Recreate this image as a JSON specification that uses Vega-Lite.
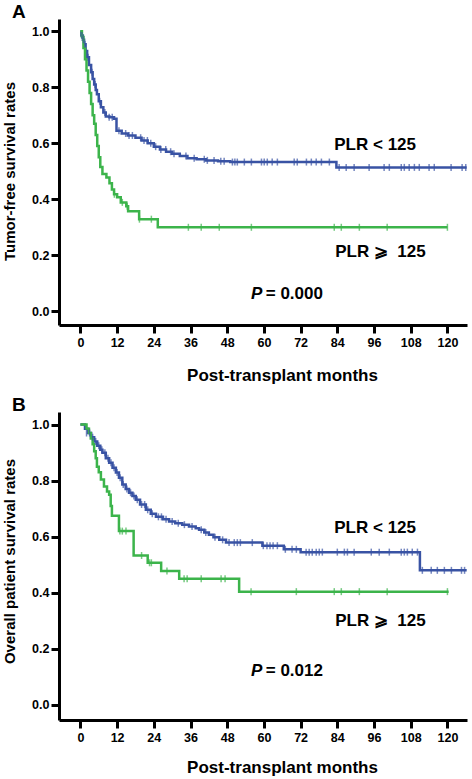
{
  "$schema": "https://vega.github.io/schema/vega-lite/v6.json",
  "background": "white",
  "padding": {"left": 2, "top": 3, "right": 0, "bottom": 0},
  "spacing": 87,
  "bounds": "flush",
  "config": {
    "view": {"stroke": null},
    "font": "Liberation Sans",
    "axis": {
      "grid": false,
      "domainColor": "black", "domainWidth": 3,
      "tickColor": "black", "tickWidth": 3, "tickSize": 8,
      "labelFont": "Liberation Sans", "labelFontWeight": "bold", "labelFontSize": 12.5, "labelColor": "black",
      "titleFont": "Liberation Sans", "titleFontWeight": "bold", "titleFontSize": 16.5, "titleColor": "black"
    },
    "axisX": {"labelPadding": 3},
    "axisY": {"labelPadding": 2}
  },
  "datasets": {
    "curves": [
      {"p":"A","g":"low","m":0,"s":1.0},{"p":"A","g":"low","m":0.3,"s":0.985},{"p":"A","g":"low","m":0.8,"s":0.97},{"p":"A","g":"low","m":1.2,"s":0.954},{"p":"A","g":"low","m":1.7,"s":0.93},{"p":"A","g":"low","m":2.2,"s":0.907},{"p":"A","g":"low","m":2.8,"s":0.88},{"p":"A","g":"low","m":3.5,"s":0.854},{"p":"A","g":"low","m":4.0,"s":0.83},{"p":"A","g":"low","m":4.5,"s":0.81},{"p":"A","g":"low","m":5.0,"s":0.79},{"p":"A","g":"low","m":5.4,"s":0.775},{"p":"A","g":"low","m":6.0,"s":0.75},{"p":"A","g":"low","m":6.7,"s":0.729},{"p":"A","g":"low","m":7.5,"s":0.71},{"p":"A","g":"low","m":8.3,"s":0.696},{"p":"A","g":"low","m":9.5,"s":0.693},{"p":"A","g":"low","m":11.0,"s":0.688},{"p":"A","g":"low","m":11.8,"s":0.645},{"p":"A","g":"low","m":13.5,"s":0.635},{"p":"A","g":"low","m":15.5,"s":0.628},{"p":"A","g":"low","m":18,"s":0.62},{"p":"A","g":"low","m":20,"s":0.61},{"p":"A","g":"low","m":22,"s":0.6},{"p":"A","g":"low","m":24,"s":0.588},{"p":"A","g":"low","m":26,"s":0.578},{"p":"A","g":"low","m":28,"s":0.57},{"p":"A","g":"low","m":30,"s":0.563},{"p":"A","g":"low","m":32.5,"s":0.555},{"p":"A","g":"low","m":35,"s":0.547},{"p":"A","g":"low","m":38,"s":0.543},{"p":"A","g":"low","m":41,"s":0.539},{"p":"A","g":"low","m":45,"s":0.536},{"p":"A","g":"low","m":49,"s":0.533},{"p":"A","g":"low","m":83.7,"s":0.514},{"p":"A","g":"low","m":126.3,"s":0.514},
      {"p":"A","g":"high","m":0,"s":1.0},{"p":"A","g":"high","m":0.5,"s":0.98},{"p":"A","g":"high","m":1.0,"s":0.94},{"p":"A","g":"high","m":1.5,"s":0.9},{"p":"A","g":"high","m":2.0,"s":0.86},{"p":"A","g":"high","m":2.5,"s":0.82},{"p":"A","g":"high","m":3.0,"s":0.78},{"p":"A","g":"high","m":3.5,"s":0.74},{"p":"A","g":"high","m":4.0,"s":0.7},{"p":"A","g":"high","m":4.5,"s":0.67},{"p":"A","g":"high","m":5.0,"s":0.63},{"p":"A","g":"high","m":5.5,"s":0.59},{"p":"A","g":"high","m":6.0,"s":0.55},{"p":"A","g":"high","m":6.5,"s":0.515},{"p":"A","g":"high","m":7.2,"s":0.49},{"p":"A","g":"high","m":8.5,"s":0.478},{"p":"A","g":"high","m":9.5,"s":0.457},{"p":"A","g":"high","m":10.3,"s":0.435},{"p":"A","g":"high","m":11.0,"s":0.418},{"p":"A","g":"high","m":12,"s":0.407},{"p":"A","g":"high","m":13.2,"s":0.389},{"p":"A","g":"high","m":15.0,"s":0.375},{"p":"A","g":"high","m":15.6,"s":0.357},{"p":"A","g":"high","m":19.2,"s":0.329},{"p":"A","g":"high","m":25.3,"s":0.3},{"p":"A","g":"high","m":120,"s":0.3},
      {"p":"B","g":"low","m":0,"s":1.0},{"p":"B","g":"low","m":1.5,"s":0.985},{"p":"B","g":"low","m":2.5,"s":0.97},{"p":"B","g":"low","m":3.5,"s":0.955},{"p":"B","g":"low","m":4.5,"s":0.94},{"p":"B","g":"low","m":5.5,"s":0.925},{"p":"B","g":"low","m":6.5,"s":0.91},{"p":"B","g":"low","m":7.2,"s":0.9},{"p":"B","g":"low","m":8.3,"s":0.88},{"p":"B","g":"low","m":9.4,"s":0.864},{"p":"B","g":"low","m":10.5,"s":0.846},{"p":"B","g":"low","m":11.6,"s":0.829},{"p":"B","g":"low","m":12.6,"s":0.81},{"p":"B","g":"low","m":13.7,"s":0.786},{"p":"B","g":"low","m":14.8,"s":0.77},{"p":"B","g":"low","m":15.9,"s":0.757},{"p":"B","g":"low","m":17,"s":0.745},{"p":"B","g":"low","m":18.1,"s":0.732},{"p":"B","g":"low","m":19.5,"s":0.715},{"p":"B","g":"low","m":21.4,"s":0.696},{"p":"B","g":"low","m":23,"s":0.682},{"p":"B","g":"low","m":24.7,"s":0.671},{"p":"B","g":"low","m":27,"s":0.662},{"p":"B","g":"low","m":29,"s":0.654},{"p":"B","g":"low","m":31,"s":0.648},{"p":"B","g":"low","m":33.3,"s":0.643},{"p":"B","g":"low","m":35.5,"s":0.636},{"p":"B","g":"low","m":37.7,"s":0.63},{"p":"B","g":"low","m":38.8,"s":0.625},{"p":"B","g":"low","m":40.5,"s":0.615},{"p":"B","g":"low","m":42,"s":0.607},{"p":"B","g":"low","m":43.5,"s":0.598},{"p":"B","g":"low","m":45.4,"s":0.589},{"p":"B","g":"low","m":47.6,"s":0.579},{"p":"B","g":"low","m":59.5,"s":0.568},{"p":"B","g":"low","m":66.5,"s":0.555},{"p":"B","g":"low","m":72,"s":0.545},{"p":"B","g":"low","m":111,"s":0.48},{"p":"B","g":"low","m":126.3,"s":0.48},
      {"p":"B","g":"high","m":0,"s":1.0},{"p":"B","g":"high","m":2.0,"s":0.985},{"p":"B","g":"high","m":2.8,"s":0.97},{"p":"B","g":"high","m":3.4,"s":0.95},{"p":"B","g":"high","m":4.0,"s":0.93},{"p":"B","g":"high","m":4.5,"s":0.905},{"p":"B","g":"high","m":5.0,"s":0.88},{"p":"B","g":"high","m":5.4,"s":0.85},{"p":"B","g":"high","m":6.0,"s":0.83},{"p":"B","g":"high","m":6.7,"s":0.804},{"p":"B","g":"high","m":7.7,"s":0.779},{"p":"B","g":"high","m":8.7,"s":0.761},{"p":"B","g":"high","m":9.4,"s":0.75},{"p":"B","g":"high","m":9.9,"s":0.71},{"p":"B","g":"high","m":10.3,"s":0.675},{"p":"B","g":"high","m":12.6,"s":0.62},{"p":"B","g":"high","m":17.4,"s":0.533},{"p":"B","g":"high","m":22,"s":0.507},{"p":"B","g":"high","m":26.4,"s":0.478},{"p":"B","g":"high","m":32.3,"s":0.45},{"p":"B","g":"high","m":51.9,"s":0.404},{"p":"B","g":"high","m":120.4,"s":0.404}
    ],
    "censors": [
      {"p":"A","g":"low","m":0.5,"s":0.985},{"p":"A","g":"low","m":1.0,"s":0.97},{"p":"A","g":"low","m":1.5,"s":0.954},{"p":"A","g":"low","m":2.5,"s":0.907},{"p":"A","g":"low","m":3.8,"s":0.854},{"p":"A","g":"low","m":4.8,"s":0.81},{"p":"A","g":"low","m":6.3,"s":0.75},{"p":"A","g":"low","m":8.0,"s":0.71},{"p":"A","g":"low","m":9.4,"s":0.693},{"p":"A","g":"low","m":10.4,"s":0.693},{"p":"A","g":"low","m":12.6,"s":0.645},{"p":"A","g":"low","m":14.8,"s":0.635},{"p":"A","g":"low","m":15.9,"s":0.628},{"p":"A","g":"low","m":17,"s":0.628},{"p":"A","g":"low","m":19.7,"s":0.62},{"p":"A","g":"low","m":20.8,"s":0.61},{"p":"A","g":"low","m":21.9,"s":0.61},{"p":"A","g":"low","m":23,"s":0.6},{"p":"A","g":"low","m":24.6,"s":0.588},{"p":"A","g":"low","m":26.3,"s":0.578},{"p":"A","g":"low","m":27.9,"s":0.578},{"p":"A","g":"low","m":29.5,"s":0.57},{"p":"A","g":"low","m":30.6,"s":0.563},{"p":"A","g":"low","m":34.5,"s":0.555},{"p":"A","g":"low","m":37.2,"s":0.547},{"p":"A","g":"low","m":40.5,"s":0.543},{"p":"A","g":"low","m":41.5,"s":0.539},{"p":"A","g":"low","m":43.7,"s":0.539},{"p":"A","g":"low","m":45.9,"s":0.536},{"p":"A","g":"low","m":47,"s":0.536},{"p":"A","g":"low","m":49.7,"s":0.533},{"p":"A","g":"low","m":50.5,"s":0.533},{"p":"A","g":"low","m":51.3,"s":0.533},{"p":"A","g":"low","m":53.6,"s":0.533},{"p":"A","g":"low","m":55.9,"s":0.533},{"p":"A","g":"low","m":59.2,"s":0.533},{"p":"A","g":"low","m":60.1,"s":0.533},{"p":"A","g":"low","m":61.1,"s":0.533},{"p":"A","g":"low","m":62.7,"s":0.533},{"p":"A","g":"low","m":64.4,"s":0.533},{"p":"A","g":"low","m":69.9,"s":0.533},{"p":"A","g":"low","m":70.9,"s":0.533},{"p":"A","g":"low","m":73.9,"s":0.533},{"p":"A","g":"low","m":75.5,"s":0.533},{"p":"A","g":"low","m":77.1,"s":0.533},{"p":"A","g":"low","m":78.8,"s":0.533},{"p":"A","g":"low","m":81.4,"s":0.533},{"p":"A","g":"low","m":84.6,"s":0.514},{"p":"A","g":"low","m":86.9,"s":0.514},{"p":"A","g":"low","m":89.5,"s":0.514},{"p":"A","g":"low","m":94.4,"s":0.514},{"p":"A","g":"low","m":99.3,"s":0.514},{"p":"A","g":"low","m":101,"s":0.514},{"p":"A","g":"low","m":104.9,"s":0.514},{"p":"A","g":"low","m":105.9,"s":0.514},{"p":"A","g":"low","m":107.5,"s":0.514},{"p":"A","g":"low","m":109.2,"s":0.514},{"p":"A","g":"low","m":110.8,"s":0.514},{"p":"A","g":"low","m":114,"s":0.514},{"p":"A","g":"low","m":115.7,"s":0.514},{"p":"A","g":"low","m":121.2,"s":0.514},{"p":"A","g":"low","m":124.8,"s":0.514},{"p":"A","g":"low","m":126,"s":0.514},
      {"p":"A","g":"high","m":11.1,"s":0.418},{"p":"A","g":"high","m":13.7,"s":0.389},{"p":"A","g":"high","m":15.3,"s":0.375},{"p":"A","g":"high","m":19.3,"s":0.329},{"p":"A","g":"high","m":23.2,"s":0.329},{"p":"A","g":"high","m":35.3,"s":0.3},{"p":"A","g":"high","m":39.5,"s":0.3},{"p":"A","g":"high","m":45.4,"s":0.3},{"p":"A","g":"high","m":55.9,"s":0.3},{"p":"A","g":"high","m":83,"s":0.3},{"p":"A","g":"high","m":85.3,"s":0.3},{"p":"A","g":"high","m":91.2,"s":0.3},{"p":"A","g":"high","m":100.3,"s":0.3},{"p":"A","g":"high","m":120,"s":0.3},
      {"p":"B","g":"low","m":2.0,"s":0.97},{"p":"B","g":"low","m":3.0,"s":0.97},{"p":"B","g":"low","m":4.0,"s":0.955},{"p":"B","g":"low","m":5.0,"s":0.94},{"p":"B","g":"low","m":6.0,"s":0.925},{"p":"B","g":"low","m":7.0,"s":0.91},{"p":"B","g":"low","m":8.0,"s":0.9},{"p":"B","g":"low","m":9.0,"s":0.88},{"p":"B","g":"low","m":10.0,"s":0.864},{"p":"B","g":"low","m":11.0,"s":0.846},{"p":"B","g":"low","m":12.0,"s":0.829},{"p":"B","g":"low","m":13.0,"s":0.81},{"p":"B","g":"low","m":14.0,"s":0.786},{"p":"B","g":"low","m":15.2,"s":0.77},{"p":"B","g":"low","m":16.4,"s":0.757},{"p":"B","g":"low","m":17.5,"s":0.745},{"p":"B","g":"low","m":18.6,"s":0.732},{"p":"B","g":"low","m":20.0,"s":0.715},{"p":"B","g":"low","m":21.0,"s":0.715},{"p":"B","g":"low","m":22.0,"s":0.696},{"p":"B","g":"low","m":23.5,"s":0.682},{"p":"B","g":"low","m":25.5,"s":0.671},{"p":"B","g":"low","m":26.5,"s":0.671},{"p":"B","g":"low","m":28,"s":0.662},{"p":"B","g":"low","m":30,"s":0.654},{"p":"B","g":"low","m":32,"s":0.648},{"p":"B","g":"low","m":34,"s":0.643},{"p":"B","g":"low","m":36.5,"s":0.636},{"p":"B","g":"low","m":39.5,"s":0.625},{"p":"B","g":"low","m":41,"s":0.615},{"p":"B","g":"low","m":44,"s":0.598},{"p":"B","g":"low","m":46.5,"s":0.589},{"p":"B","g":"low","m":48.6,"s":0.579},{"p":"B","g":"low","m":50.3,"s":0.579},{"p":"B","g":"low","m":51.3,"s":0.579},{"p":"B","g":"low","m":52.3,"s":0.579},{"p":"B","g":"low","m":56.2,"s":0.579},{"p":"B","g":"low","m":59.8,"s":0.568},{"p":"B","g":"low","m":61,"s":0.568},{"p":"B","g":"low","m":62,"s":0.568},{"p":"B","g":"low","m":63,"s":0.568},{"p":"B","g":"low","m":64.4,"s":0.568},{"p":"B","g":"low","m":67,"s":0.555},{"p":"B","g":"low","m":69.2,"s":0.555},{"p":"B","g":"low","m":70.6,"s":0.555},{"p":"B","g":"low","m":73.8,"s":0.545},{"p":"B","g":"low","m":74.8,"s":0.545},{"p":"B","g":"low","m":75.8,"s":0.545},{"p":"B","g":"low","m":77.1,"s":0.545},{"p":"B","g":"low","m":78.1,"s":0.545},{"p":"B","g":"low","m":79.1,"s":0.545},{"p":"B","g":"low","m":84,"s":0.545},{"p":"B","g":"low","m":86.3,"s":0.545},{"p":"B","g":"low","m":87.3,"s":0.545},{"p":"B","g":"low","m":89.5,"s":0.545},{"p":"B","g":"low","m":95.1,"s":0.545},{"p":"B","g":"low","m":97.7,"s":0.545},{"p":"B","g":"low","m":101,"s":0.545},{"p":"B","g":"low","m":104.9,"s":0.545},{"p":"B","g":"low","m":105.9,"s":0.545},{"p":"B","g":"low","m":106.9,"s":0.545},{"p":"B","g":"low","m":108.5,"s":0.545},{"p":"B","g":"low","m":110.2,"s":0.545},{"p":"B","g":"low","m":111.8,"s":0.48},{"p":"B","g":"low","m":114.7,"s":0.48},{"p":"B","g":"low","m":116.7,"s":0.48},{"p":"B","g":"low","m":119,"s":0.48},{"p":"B","g":"low","m":121.3,"s":0.48},{"p":"B","g":"low","m":124.6,"s":0.48},{"p":"B","g":"low","m":125.6,"s":0.48},
      {"p":"B","g":"high","m":12.9,"s":0.62},{"p":"B","g":"high","m":13.7,"s":0.62},{"p":"B","g":"high","m":14.9,"s":0.62},{"p":"B","g":"high","m":20,"s":0.533},{"p":"B","g":"high","m":22.6,"s":0.507},{"p":"B","g":"high","m":23.2,"s":0.507},{"p":"B","g":"high","m":28.3,"s":0.478},{"p":"B","g":"high","m":33.9,"s":0.45},{"p":"B","g":"high","m":34.9,"s":0.45},{"p":"B","g":"high","m":39.5,"s":0.45},{"p":"B","g":"high","m":46,"s":0.45},{"p":"B","g":"high","m":47.3,"s":0.45},{"p":"B","g":"high","m":55.8,"s":0.404},{"p":"B","g":"high","m":70.6,"s":0.404},{"p":"B","g":"high","m":83,"s":0.404},{"p":"B","g":"high","m":85.3,"s":0.404},{"p":"B","g":"high","m":91.2,"s":0.404},{"p":"B","g":"high","m":100.3,"s":0.404},{"p":"B","g":"high","m":120,"s":0.404}
    ],
    "labels": [
      {"p":"A","t":"PLR < 125","m":83,"s":0.575,"it":false},
      {"p":"A","t":"PLR ⩾\u00a0 125","m":83.3,"s":0.193,"it":false},
      {"p":"A","t":"P","m":55.8,"s":0.043,"it":true},
      {"p":"A","t":"= 0.000","m":60.6,"s":0.043,"it":false},
      {"p":"B","t":"PLR < 125","m":83,"s":0.614,"it":false},
      {"p":"B","t":"PLR ⩾\u00a0 125","m":83.3,"s":0.282,"it":false},
      {"p":"B","t":"P","m":55.8,"s":0.103,"it":true},
      {"p":"B","t":"= 0.012","m":60.6,"s":0.103,"it":false}
    ]
  },
  "vconcat": [
    {
      "width": 408, "height": 306,
      "title": {"text": "A", "anchor": "start", "frame": "group", "dx": -47, "offset": -18, "baseline": "alphabetic", "fontSize": 19, "fontWeight": "bold", "font": "Liberation Sans", "color": "black"},
      "encoding": {
        "x": {"field": "m", "type": "quantitative", "scale": {"domain": [-7, 126.4], "nice": false, "zero": false},
              "axis": {"title": "Post-transplant months", "values": [0,12,24,36,48,60,72,84,96,108,120], "titleX": 223, "titleY": 55.5, "titleBaseline": "alphabetic", "titleFontSize": 17}},
        "y": {"field": "s", "type": "quantitative", "scale": {"domain": [-0.049, 1.044], "nice": false, "zero": false},
              "axis": {"title": "Tumor-free survival rates", "values": [0,0.2,0.4,0.6,0.8,1.0], "format": ".1f", "titleX": -45, "titleY": 152, "titleBaseline": "alphabetic", "titleFontSize": 15}}
      },
      "layer": [
        {"data": {"name": "curves"}, "transform": [{"filter": "datum.p === 'A'"}],
         "mark": {"type": "line", "interpolate": "step-after", "strokeWidth": 2.5},
         "encoding": {"color": {"field": "g", "type": "nominal", "scale": {"domain": ["low","high"], "range": ["#3953a4","#3cb44b"]}, "legend": null}}},
        {"data": {"name": "censors"}, "transform": [{"filter": "datum.p === 'A'"}],
         "mark": {"type": "tick", "orient": "vertical", "size": 7, "thickness": 1.5},
         "encoding": {"color": {"field": "g", "type": "nominal", "scale": {"domain": ["low","high"], "range": ["#3953a4","#3cb44b"]}, "legend": null}}},
        {"data": {"name": "labels"}, "transform": [{"filter": "datum.p === 'A' && !datum.it"}],
         "mark": {"type": "text", "align": "left", "baseline": "alphabetic", "fontSize": 17, "fontWeight": "bold", "font": "Liberation Sans", "color": "black"},
         "encoding": {"text": {"field": "t"}}},
        {"data": {"name": "labels"}, "transform": [{"filter": "datum.p === 'A' && datum.it"}],
         "mark": {"type": "text", "align": "left", "baseline": "alphabetic", "fontSize": 17, "fontWeight": "bold", "fontStyle": "italic", "font": "Liberation Sans", "color": "black"},
         "encoding": {"text": {"field": "t"}}}
      ]
    },
    {
      "width": 408, "height": 308,
      "title": {"text": "B", "anchor": "start", "frame": "group", "dx": -47, "offset": -18, "baseline": "alphabetic", "fontSize": 19, "fontWeight": "bold", "font": "Liberation Sans", "color": "black"},
      "encoding": {
        "x": {"field": "m", "type": "quantitative", "scale": {"domain": [-7, 126.4], "nice": false, "zero": false},
              "axis": {"title": "Post-transplant months", "values": [0,12,24,36,48,60,72,84,96,108,120], "titleX": 223, "titleY": 52.5, "titleBaseline": "alphabetic", "titleFontSize": 17}},
        "y": {"field": "s", "type": "quantitative", "scale": {"domain": [-0.054, 1.045], "nice": false, "zero": false},
              "axis": {"title": "Overall patient survival rates", "values": [0,0.2,0.4,0.6,0.8,1.0], "format": ".1f", "titleX": -45, "titleY": 149, "titleBaseline": "alphabetic", "titleFontSize": 15}}
      },
      "layer": [
        {"data": {"name": "curves"}, "transform": [{"filter": "datum.p === 'B'"}],
         "mark": {"type": "line", "interpolate": "step-after", "strokeWidth": 2.5},
         "encoding": {"color": {"field": "g", "type": "nominal", "scale": {"domain": ["low","high"], "range": ["#3953a4","#3cb44b"]}, "legend": null}}},
        {"data": {"name": "censors"}, "transform": [{"filter": "datum.p === 'B'"}],
         "mark": {"type": "tick", "orient": "vertical", "size": 7, "thickness": 1.5},
         "encoding": {"color": {"field": "g", "type": "nominal", "scale": {"domain": ["low","high"], "range": ["#3953a4","#3cb44b"]}, "legend": null}}},
        {"data": {"name": "labels"}, "transform": [{"filter": "datum.p === 'B' && !datum.it"}],
         "mark": {"type": "text", "align": "left", "baseline": "alphabetic", "fontSize": 17, "fontWeight": "bold", "font": "Liberation Sans", "color": "black"},
         "encoding": {"text": {"field": "t"}}},
        {"data": {"name": "labels"}, "transform": [{"filter": "datum.p === 'B' && datum.it"}],
         "mark": {"type": "text", "align": "left", "baseline": "alphabetic", "fontSize": 17, "fontWeight": "bold", "fontStyle": "italic", "font": "Liberation Sans", "color": "black"},
         "encoding": {"text": {"field": "t"}}}
      ]
    }
  ]
}
